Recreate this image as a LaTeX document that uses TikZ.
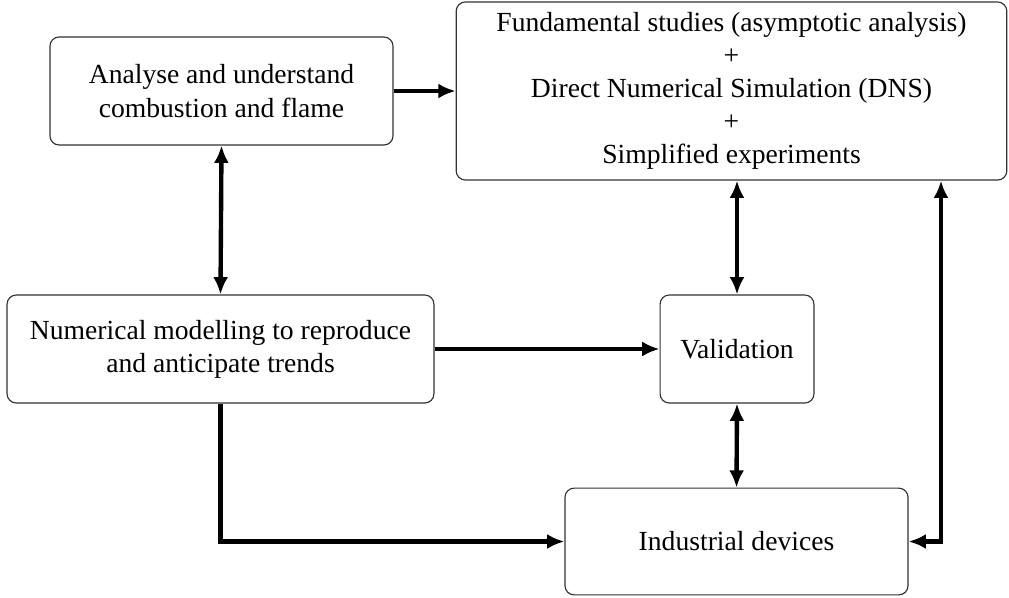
\documentclass[tikz,border=0pt]{standalone}
\usepackage{fontspec}
\setmainfont{Liberation Serif}
\usetikzlibrary{arrows.meta}
\tikzset{
	box/.style={draw=black!80, line width=0.5pt, rounded corners=4pt, align=center, inner sep=2pt, font=\fontsize{12}{14.4}\selectfont},
	link/.style={line width=1.9pt, -{Latex[length=7.5pt,width=6.5pt]}},
	links/.style={line width=1.9pt, {Latex[length=7.5pt,width=6.5pt]}-{Latex[length=7.5pt,width=6.5pt]}}
}

\begin{document}
\begin{tikzpicture}[x=0.01527cm, y=-0.01527cm]
		%%%%% START %%%%%
		
		\useasboundingbox (0, 0) rectangle (1009, 597);
		
		\node[box, minimum width=5.24cm, minimum height=1.65cm] (analyse) at (221.5, 91) {Analyse and understand\\combustion and flame};
		\node[box, minimum width=8.41cm, minimum height=2.72cm] (fundam) at (731.5, 91) {Fundamental studies (asymptotic analysis)\\+\\Direct Numerical Simulation (DNS)\\+\\Simplified experiments};
		\node[box, minimum width=6.52cm, minimum height=1.65cm] (model) at (220.5, 349) {Numerical modelling to reproduce\\and anticipate trends};
		\node[box, minimum width=2.35cm, minimum height=1.65cm] (valid) at (737, 349) {Validation};
		\node[box, minimum width=5.24cm, minimum height=1.63cm] (indus) at (736.5, 541.5) {Industrial devices};
		
		\coordinate (fundbot) at (941, 180);
		
		\draw[link] (analyse.east) -- (analyse.east -| fundam.west);
		\draw[links] (analyse.south) -- (model.north);
		\draw[link] (model.east) -- (valid.west);
		\draw[links] (valid.north |- fundam.south) -- (valid.north);
		\draw[links] (valid.south) -- (indus.north);
		\draw[link] (model.south) |- (indus.west);
		\draw[links] (fundbot |- fundam.south) |- (indus.east);
		
		%%%%% END %%%%%
	\end{tikzpicture}
\end{document}
